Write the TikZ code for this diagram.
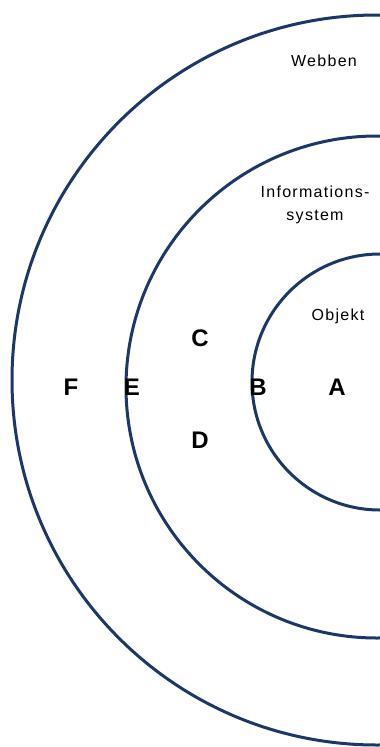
\documentclass[tikz,border=0pt]{standalone}
\usepackage{fontspec}
\setmainfont{Liberation Sans}
\newfontfamily\lblfont[LetterSpace=8]{Liberation Sans}
\definecolor{ringblue}{RGB}{28,56,104}
\begin{document}
\begin{tikzpicture}[x=1pt,y=-1pt,
  ring/.style={draw=ringblue,line width=3pt},
  label/.style={font=\lblfont\fontsize{16}{22.5}\selectfont,inner sep=0pt,align=center},
  letter/.style={font=\bfseries\fontsize{24}{28}\selectfont,inner sep=0pt}]
\clip (0,0) rectangle (380,747);
\fill[white] (0,0) rectangle (380,747);
\draw[ring] (377,380) circle[radius=365];
\draw[ring] (377,387) circle[radius=251];
\draw[ring] (380,382) circle[radius=128];
\node[label] (webben) at (324,61) {Webben};
\node[label] (info) at (315,205) {Informations-\\system};
\node[label] (objekt) at (338,316) {Objekt};
\node[letter] (C) at (200,338) {C};
\node[letter] (D) at (200,440) {D};
\node[letter] (F) at (71,387) {F};
\node[letter] (E) at (132,387) {E};
\node[letter] (B) at (258,387) {B};
\node[letter] (A) at (337,387) {A};
\end{tikzpicture}
\end{document}
